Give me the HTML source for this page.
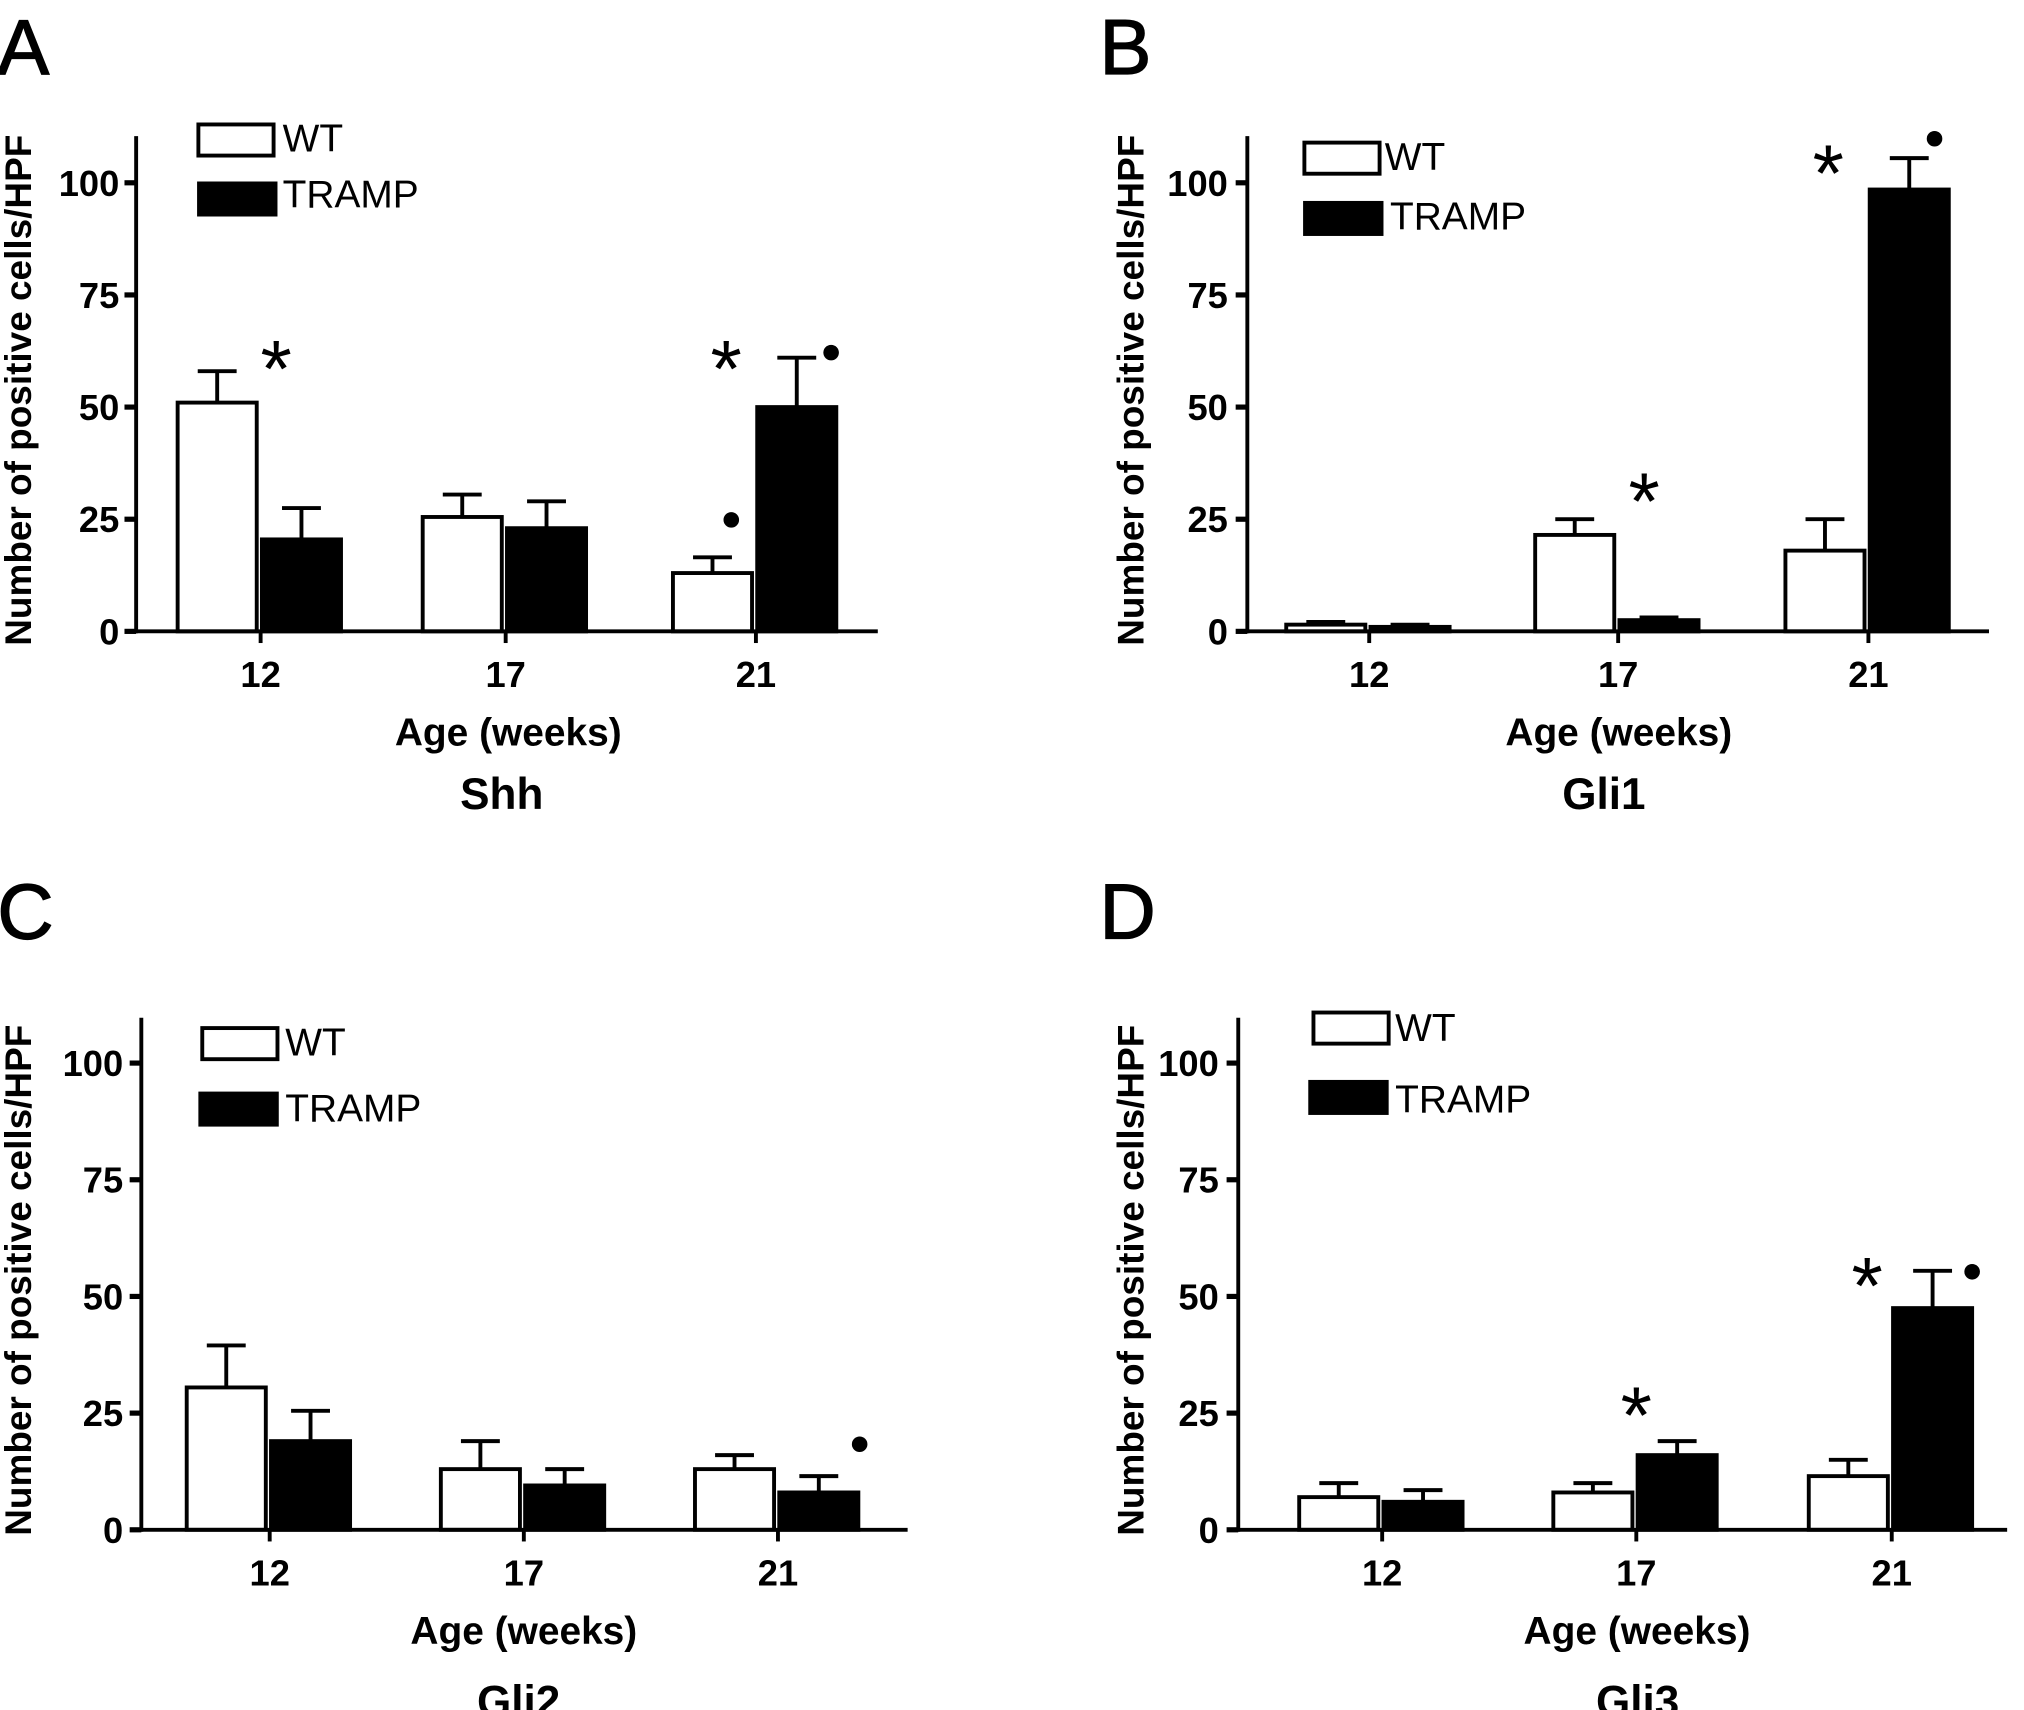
<!DOCTYPE html>
<html><head><meta charset="utf-8"><style>
html,body{margin:0;padding:0;background:#fff;}
svg{display:block;font-family:"Liberation Sans",Arial,sans-serif;}
</style></head><body>
<svg id="fig" width="2024" height="1710" viewBox="0 0 1561 1319" preserveAspectRatio="none"></svg>
<script>
const categories = ["12","17","21"];
const yTicks = [0,25,50,75,100];
const shhWT = [51,25.5,13], shhWTerr = [7,5,3.5], shhTR = [20.5,23,50], shhTRerr = [7,6,11];
const gli1WT = [1.5,21.5,18], gli1WTerr = [0.6,3.5,7], gli1TR = [1,2.5,98.5], gli1TRerr = [0.5,0.6,7];
const gli2WT = [30.5,13,13], gli2WTerr = [9,6,3], gli2TR = [19,9.5,8], gli2TRerr = [6.5,3.5,3.5];
const gli3WT = [7,8,11.5], gli3WTerr = [3,2,3.5], gli3TR = [6,16,47.5], gli3TRerr = [2.5,3,8];

const NS="http://www.w3.org/2000/svg";
const svg=document.getElementById('fig');
function el(tag,attrs,parent,text){const e=document.createElementNS(NS,tag);for(const k in attrs)e.setAttribute(k,attrs[k]);if(text!==undefined)e.textContent=text;(parent||svg).appendChild(e);return e;}

const panels=[
 {id:"a",letter:"A",lx:0,ly:57,ax:105,ax2:677,y0:487,y100:141,top:105,ticks:[201,390,583],wt:shhWT,wte:shhWTerr,tr:shhTR,tre:shhTRerr,title:"Shh",tx:387,agey:565,ty:612,
  leg:[153,96,218,117,153,141,218,160],stars:[[213,278],[560,278]],dots:[[564,401],[641,272]],ylab:92,ytx:14},
 {id:"b",letter:"B",lx:850,ly:57,ax:962,ax2:1534,y0:487,y100:141,top:105,ticks:[1056,1248,1441],wt:gli1WT,wte:gli1WTerr,tr:gli1TR,tre:gli1TRerr,title:"Gli1",tx:1237,agey:565,ty:612,
  leg:[1006,110,1068,131,1006,156,1072,177],stars:[[1268,380],[1410,127]],dots:[[1492,107]],ylab:947,ytx:872},
 {id:"c",letter:"C",lx:0,ly:724,ax:109,ax2:700,y0:1180,y100:820,top:785,ticks:[208,404,600],wt:gli2WT,wte:gli2WTerr,tr:gli2TR,tre:gli2TRerr,title:"Gli2",tx:400,agey:1258,ty:1312,
  leg:[156,793,220,814,154,843,220,865],stars:[],dots:[[663,1114]],ylab:95,ytx:14},
 {id:"d",letter:"D",lx:850,ly:724,ax:955,ax2:1548,y0:1180,y100:820,top:785,ticks:[1066,1262,1459],wt:gli3WT,wte:gli3WTerr,tr:gli3TR,tre:gli3TRerr,title:"Gli3",tx:1263,agey:1258,ty:1312,
  leg:[1013,781,1076,803,1010,834,1076,858],stars:[[1262,1085],[1440,985]],dots:[[1521,981]],ylab:940,ytx:872}
];

panels.forEach(p=>{
 const g=el('g',{},svg);
 
 
 const y=v=>p.y0-(p.y0-p.y100)*v/100;
 const L=el('text',{x:p.lx-2,y:p.ly,'font-size':60,stroke:'#000','stroke-width':1},g,p.letter);
 
 const bw=61;
 categories.forEach((c,i)=>{
  const cx=p.ticks[i];
  [[p.wt,p.wte,cx-bw-3,'#fff','wt'],[p.tr,p.tre,cx+1,'#000','tramp']].forEach(([vals,errs,x,fill,nm])=>{
   const v=vals[i], e=errs[i];
   const mid=x+bw/2;
   const eb=el('line',{x1:mid,x2:mid,y1:y(v),y2:y(v+e),stroke:'#000','stroke-width':3},g);
   
   const cap=el('line',{x1:mid-15,x2:mid+15,y1:y(v+e),y2:y(v+e),stroke:'#000','stroke-width':3},g);
   
   const r=el('rect',{x:x,y:y(v),width:bw,height:p.y0-y(v),fill:fill,stroke:'#000','stroke-width':3},g);
   
  });
 });
 const ya=el('line',{x1:p.ax,x2:p.ax,y1:p.top,y2:p.y0+1.5,stroke:'#000','stroke-width':3},g);
 
 const xa=el('line',{x1:p.ax-1.5,x2:p.ax2,y1:p.y0,y2:p.y0,stroke:'#000','stroke-width':3},g);
 
 yTicks.forEach(t=>{
  const tk=el('line',{x1:p.ax-9,x2:p.ax,y1:y(t),y2:y(t),stroke:'#000','stroke-width':4},g);
  
  const tl=el('text',{x:p.ylab,y:y(t)+10,'font-size':28,'font-weight':'bold','text-anchor':'end'},g,String(t));
  
 });
 categories.forEach((c,i)=>{
  const tk=el('line',{x1:p.ticks[i],x2:p.ticks[i],y1:p.y0,y2:p.y0+9,stroke:'#000','stroke-width':3},g);
  
  const tl=el('text',{x:p.ticks[i],y:p.y0+43,'font-size':28,'font-weight':'bold','text-anchor':'middle'},g,c);
  
 });
 const xt=el('text',{x:(p.ticks[0]+p.ticks[2])/2,y:p.agey+10,'font-size':30,'font-weight':'bold','text-anchor':'middle'},g,'Age (weeks)');
 
 const tt=el('text',{x:p.tx,y:p.ty+12,'font-size':34,'font-weight':'bold','text-anchor':'middle'},g,p.title);
 
 const cy=(p.top+p.y0)/2+5;
 const yt=el('text',{x:0,y:0,'font-size':28.5,'font-weight':'bold','text-anchor':'middle',transform:`translate(${p.ytx+10},${cy}) rotate(-90)`},g,'Number of positive cells/HPF');
 
 const l=p.leg;
 const lw=el('rect',{x:l[0],y:l[1],width:58,height:24,fill:'#fff',stroke:'#000','stroke-width':3},g);
 
 const lwt=el('text',{x:l[2],y:l[3],'font-size':30},g,'WT');
 
 const lt=el('rect',{x:l[4],y:l[5],width:60,height:25,fill:'#000',stroke:'#000','stroke-width':2},g);
 
 const ltt=el('text',{x:l[6],y:l[7],'font-size':30},g,'TRAMP');
 
 p.stars.forEach(s=>{
  const st=el('text',{x:s[0],y:s[1]+28,'font-size':62,'text-anchor':'middle'},g,'*');
  
 });
 p.dots.forEach(d=>{
  const dt=el('circle',{cx:d[0],cy:d[1],r:6,fill:'#000'},g);
  
 });
});
</script>
</body></html>
